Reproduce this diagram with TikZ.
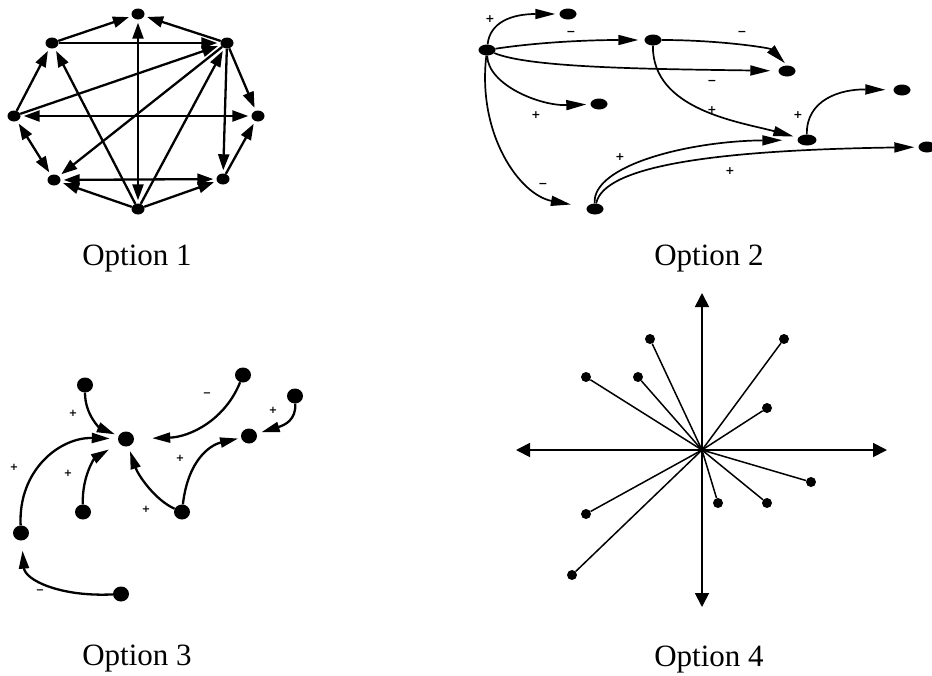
\documentclass[tikz,border=0pt]{standalone}
\usepackage{fontspec}
\setmainfont{Liberation Serif}
\newfontfamily\signfont{DejaVu Sans}
\usetikzlibrary{arrows.meta,shapes.geometric}
\tikzset{
  d1/.style={ellipse,fill=black,inner sep=0pt,minimum width=13pt,minimum height=11pt},
  d2/.style={ellipse,fill=black,inner sep=0pt,minimum width=17pt,minimum height=11pt},
  d3/.style={ellipse,fill=black,inner sep=0pt,minimum width=16pt,minimum height=15pt},
  d4/.style={circle,fill=black,inner sep=0pt,minimum size=10pt},
  e1/.style={line width=2.3pt,shorten >=3pt,-{Triangle[length=16pt,width=11pt]}},
  e1b/.style={line width=2.3pt,shorten >=3pt,shorten <=3pt,{Triangle[length=16pt,width=11pt]}-{Triangle[length=16pt,width=11pt]}},
  e2/.style={line width=1.7pt,-{Triangle[length=20pt,width=10pt]}},
  e3/.style={line width=2.3pt,-{Triangle[length=18pt,width=10pt]}},
  ax/.style={line width=1.8pt,{Triangle[length=14pt,width=14pt]}-{Triangle[length=14pt,width=14pt]}},
  sp/.style={line width=1.5pt},
  sg/.style={font=\signfont\bfseries\fontsize{11}{11}\selectfont,inner sep=0pt},
  sg3/.style={font=\signfont\bfseries\fontsize{10}{10}\selectfont,inner sep=0pt},
  titlelbl/.style={font=\fontsize{31}{31}\selectfont,anchor=base,inner sep=0pt}
}
\begin{document}
\begin{tikzpicture}[x=1pt,y=-1pt]
\useasboundingbox[fill=white] (0,0) rectangle (932,675);

% ---------------- Option 1 ----------------
\node[d1] (t)  at (138,14) {};
\node[d1] (ul) at (52,43) {};
\node[d1] (ur) at (227,43) {};
\node[d1] (l)  at (14,116) {};
\node[d1] (r)  at (258,116) {};
\node[d1] (ll) at (54,180) {};
\node[d1] (lr) at (223,179) {};
\node[d1] (b)  at (138,209) {};
\draw[e1] (ul) -- (t);
\draw[e1] (ur) -- (t);
\draw[e1] (ul) -- (ur);
\draw[e1] (l) -- (ul);
\draw[e1] (l) -- (ur);
\draw[e1] (ur) -- (ll);
\draw[e1] (b) -- (ul);
\draw[e1b] (t) -- (b);
\draw[e1] (b) -- (ur);
\draw[e1b] (l) -- (r);
\draw[e1] (ur) -- (r);
\draw[e1] (ur) -- (lr);
\draw[e1] (lr) -- (r);
\draw[e1b] (l) -- (ll);
\draw[e1b] (ll) -- (lr);
\draw[e1] (b) -- (ll);
\draw[e1] (b) -- (lr);
\node[titlelbl] (c1) at (137,265) {Option 1};

% ---------------- Option 2 ----------------
\node[d2] (S) at (487,50) {};
\node[d2] (A) at (568,14) {};
\node[d2] (B) at (653,40) {};
\node[d2] (C) at (599,104) {};
\node[d2] (D) at (595,209) {};
\node[d2] (E) at (787,71) {};
\node[d2,minimum width=19pt] (F) at (807,140) {};
\node[d2] (G) at (902,90) {};
\node[d2] (H) at (927,147) {};
\draw[e2,shorten >=4pt] (S) .. controls (490,22) and (512,14) .. (A);
\draw[e2,shorten >=6pt] (S) .. controls (540,42) and (590,40) .. (B);
\draw[e2,shorten >=8pt] (S) .. controls (530,68) and (650,69) .. (E);
\draw[e2,shorten >=3pt] (B) .. controls (720,40) and (770,48) .. (E.north);
\draw[e2,shorten >=4pt] (S) .. controls (488,85) and (540,106) .. (C);
\draw[e2,shorten >=16pt] (S) .. controls (477,135) and (520,195) .. (D);
\draw[e2,shorten >=5pt] (B) .. controls (652,110) and (740,122) .. (F);
\draw[e2,shorten >=15pt] (D) .. controls (592,165) and (690,141) .. (F);
\draw[e2,shorten >=4pt] (D) .. controls (604,165) and (720,150) .. (H);
\draw[e2,shorten >=8pt] (F) .. controls (806,100) and (840,89) .. (G);
\node[sg] (p1) at (490,19) {+};
\node[sg] (m1) at (571,33) {−};
\node[sg] (m2) at (742,33) {−};
\node[sg] (m3) at (712,82) {−};
\node[sg] (p2) at (536,115) {+};
\node[sg] (m4) at (543,185) {−};
\node[sg] (p3) at (712,110) {+};
\node[sg] (p4) at (798,115) {+};
\node[sg] (p5) at (620,157) {+};
\node[sg] (p6) at (730,171) {+};
\node[titlelbl] (c2) at (709,265) {Option 2};

% ---------------- Option 3 ----------------
\node[d3] (K)  at (126,439) {};
\node[d3] (n1) at (85,385) {};
\node[d3] (n2) at (243,375) {};
\node[d3] (n3) at (295,396) {};
\node[d3] (n4) at (249,436) {};
\node[d3] (n5) at (83,512) {};
\node[d3] (n6) at (182,512) {};
\node[d3] (n7) at (21,533) {};
\node[d3] (n8) at (121,594) {};
\draw[e3,shorten >=4pt] (n1) .. controls (85,415) and (100,428) .. (K);
\draw[e3,shorten >=18pt] (n2) .. controls (225,420) and (190,437) .. (K);
\draw[e3,shorten >=5pt] (n3) .. controls (296,420) and (285,425) .. (n4);
\draw[e3,shorten >=12pt] (n5) .. controls (82,475) and (95,458) .. (K);
\draw[e3,shorten >=5pt] (n6) .. controls (155,500) and (138,475) .. (K);
\draw[e3,shorten >=3pt] (n6) .. controls (188,460) and (210,445) .. (n4);
\draw[e3,shorten >=8pt] (n7) .. controls (18,470) and (60,437) .. (K);
\draw[e3,shorten >=10pt] (n8) .. controls (60,597) and (25,580) .. (n7);
\node[sg3] (q1) at (73,413) {+};
\node[sg3] (q2) at (207,395) {−};
\node[sg3] (q3) at (273,410) {+};
\node[sg3] (q4) at (68,473) {+};
\node[sg3] (q5) at (146,509) {+};
\node[sg3] (q6) at (180,458) {+};
\node[sg3] (q7) at (14,467) {+};
\node[sg3] (q8) at (40,592) {−};
\node[titlelbl] (c3) at (137,665) {Option 3};

% ---------------- Option 4 ----------------
\coordinate (O) at (702,450);
\coordinate (up) at (702,293);
\coordinate (dn) at (702,607);
\coordinate (lf) at (516,450);
\coordinate (rt) at (887,450);
\draw[ax] (lf) -- (rt);
\draw[ax] (up) -- (dn);
\foreach \i/\x/\y in {1/650/339,2/784/339,3/586/377,4/638/377,5/767/408,6/811/482,7/718/503,8/767/503,9/586/514,10/572/575}{
  \node[d4] (s\i) at (\x,\y) {};
  \draw[sp] (O) -- (s\i);
}
\node[titlelbl] (c4) at (709,666) {Option 4};
\end{tikzpicture}
\end{document}
